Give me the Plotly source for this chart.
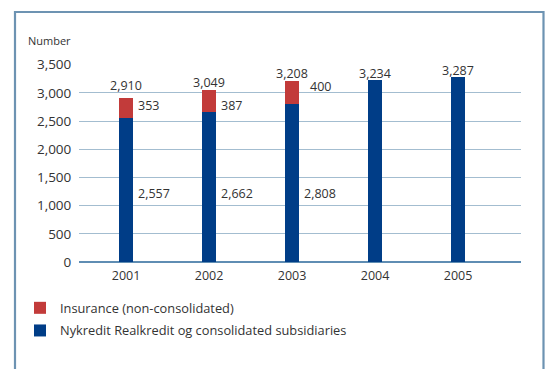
import plotly.graph_objects as go

# Staff numbers per year
years = [2001, 2002, 2003, 2004, 2005]
nykredit = [2557, 2662, 2808, 3234, 3287]
insurance = [353, 387, 400, None, None]
y_ticks = [0, 500, 1000, 1500, 2000, 2500, 3000, 3500]

W, H = 549, 369
BLUE = "#003d87"
RED = "#c23b3a"
TEXT = "#333333"
GRID = "#a3bdd0"
FRAME = "#6d93b2"
FONT = "Open Sans"
LABEL_SIZE = 12.5

fig = go.Figure()
fig.add_trace(go.Bar(
    x=years, y=nykredit, name="Nykredit Realkredit og consolidated subsidiaries",
    marker=dict(color=BLUE, line=dict(width=0)), width=0.17, legendgroup="b",
    legendrank=2,
))
fig.add_trace(go.Bar(
    x=years, y=insurance, name="Insurance (non-consolidated)",
    marker=dict(color=RED, line=dict(width=0)), width=0.17, legendgroup="a",
    legendrank=1,
))

annotations = []
# totals above each bar (pixel offsets of the label centre above the bar top)
total_gap = [12, 7.5, 8, 6, 6]
for i, (yr, b, r) in enumerate(zip(years, nykredit, insurance)):
    total = b + (r or 0)
    annotations.append(dict(
        x=yr, y=total, xref="x", yref="y", text=f"{total:,}",
        showarrow=False, yanchor="middle", yshift=total_gap[i],
        font=dict(family=FONT, size=LABEL_SIZE, color=TEXT),
    ))

# insurance values beside the red segment
ins_xshift = [3, 3, 9]
ins_yshift = [2, -4.7, 5.7]
for i, (yr, b, r) in enumerate(zip(years, nykredit, insurance)):
    if r is None:
        continue
    annotations.append(dict(
        x=yr + 0.085, y=b + r / 2, xref="x", yref="y", text=f"{r:,}",
        showarrow=False, xanchor="left", yanchor="middle",
        xshift=ins_xshift[i], yshift=ins_yshift[i],
        font=dict(family=FONT, size=LABEL_SIZE, color=TEXT),
    ))

# consolidated values, shown at a common height inside the plot
BASE_LABEL_Y = 1210
for yr, b, r in zip(years, nykredit, insurance):
    if r is None:
        continue
    annotations.append(dict(
        x=yr + 0.085, y=BASE_LABEL_Y, xref="x", yref="y", text=f"{b:,}",
        showarrow=False, xanchor="left", yanchor="middle", xshift=3,
        font=dict(family=FONT, size=LABEL_SIZE, color=TEXT),
    ))

annotations.append(dict(
    x=72.5 / W, y=1 - 40 / H, xref="paper", yref="paper", text="Number",
    showarrow=False, xanchor="right", yanchor="middle",
    font=dict(family=FONT, size=11, color=TEXT),
))

fig.update_layout(
    template="none",
    width=W, height=H,
    margin=dict(l=0, r=0, t=0, b=0, pad=0, autoexpand=False),
    paper_bgcolor="white", plot_bgcolor="white",
    barmode="stack",
    font=dict(family=FONT, size=13, color=TEXT),
    annotations=annotations,
    showlegend=True,
    legend=dict(
        x=20 / W, y=1 - 293 / H, xanchor="left", yanchor="top",
        traceorder="grouped", tracegroupgap=3,
        font=dict(family=FONT, size=12.8, color=TEXT),
        bgcolor="rgba(0,0,0,0)", borderwidth=0,
    ),
    xaxis=dict(
        domain=[79.3 / W, 520.7 / W],
        range=[2000.437, 2005.755],
        tickmode="array", tickvals=years, ticktext=[str(y) for y in years],
        showgrid=False, zeroline=False, showline=False, ticks="",
        ticklabelstandoff=4,
        tickfont=dict(family=FONT, size=12.5, color=TEXT),
        automargin=False, fixedrange=True,
    ),
    yaxis=dict(
        domain=[1 - 262 / H, 1 - 64.7 / H],
        range=[0, 3500],
        tickmode="array", tickvals=y_ticks, ticktext=[f"{v:,}" for v in y_ticks],
        showgrid=True, gridcolor=GRID, gridwidth=1.3,
        zeroline=True, zerolinecolor="#5f8db3", zerolinewidth=1.5,
        showline=False, ticks="", ticklabelstandoff=7,
        tickfont=dict(family=FONT, size=13.5, color=TEXT),
        automargin=False, fixedrange=True,
    ),
    shapes=[dict(
        type="rect", xref="paper", yref="paper",
        x0=15 / W, x1=543.5 / W, y0=-0.1, y1=1 - 12 / H,
        line=dict(color=FRAME, width=2.2), fillcolor="rgba(0,0,0,0)",
    )],
)

fig.write_html("out.html")
